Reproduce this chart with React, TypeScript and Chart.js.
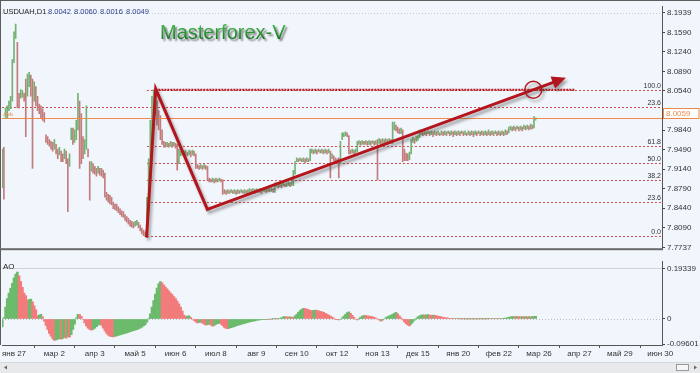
import React, { useEffect, useRef } from "react";
import { Chart, registerables } from "chart.js";

Chart.register(...registerables);

// ---------------- data ----------------
const symbolName = "USDUAH,D1";
const lastQuote = [8.0042, 8.006, 8.0016, 8.0049]; // O H L C
const currentPrice = 8.0059;
const firstBar = -7;
const barsPerDateLabel = 24;
const barRange = [-7.13, 385.07];
const priceRange = [7.7721, 8.2049];
const aoRange = [-0.0996, 0.2187];

const dateLabels = [
  "янв 27", "мар 2", "апр 3", "май 5", "июн 6", "июл 8", "авг 9", "сен 10", "окт 12",
  "ноя 13", "дек 15", "янв 20", "фев 22", "мар 26", "апр 27", "май 29", "июн 30",
];
const priceTicks = [8.1939, 8.159, 8.124, 8.089, 8.054, 7.984, 7.949, 7.914, 7.879, 7.844, 7.809, 7.7737];
const aoTicks = [0.19339, 0, -0.09601];

const highs = [
  7.9497, 7.9531, 8.0238, 8.0273, 8.0359, 8.0445, 8.1101, 8.16, 8.1738, 8.1411,
  8.0497, 8.0566, 8.0549, 8.0497, 8.0755, 8.0842, 8.0876, 8.0824, 8.0755, 8.0704,
  8.0618, 8.0445, 8.0307, 8.0273, 8.0221, 8.0152, 7.9755, 7.9721, 7.9669, 7.9635,
  7.9617, 7.9669, 7.9583, 7.9497, 7.9531, 7.9462, 7.9411, 7.9497, 7.9462, 7.9324,
  7.9411, 7.9876, 7.9876, 7.9842, 8.0014, 8.0497, 8.0359, 8.0135, 7.9721, 7.9669,
  8.0273, 7.9497, 7.9273, 7.9273, 7.9238, 7.9187, 7.9152, 7.9187, 7.9152, 7.9152,
  7.9118, 7.9066, 7.8721, 7.8686, 7.8669, 7.8634, 7.8548, 7.8514, 7.8514, 7.8462,
  7.8428, 7.8393, 7.8376, 7.8324, 7.829, 7.8255, 7.8221, 7.8203, 7.8186, 7.8203,
  7.8221, 7.8186, 7.8134, 7.8083, 7.8048, 7.8014, 7.8634, 7.9324, 8.0014, 8.0445,
  8.0566, 8.0566, 8.0359, 8.0187, 8.01, 7.9842, 7.9635, 7.9618, 7.9618, 7.96,
  7.9635, 7.9618, 7.9618, 7.96, 7.9583, 7.9497, 7.9462, 7.948, 7.9462, 7.948,
  7.9445, 7.948, 7.9462, 7.948, 7.9462, 7.9411, 7.9221, 7.9204, 7.9221, 7.9204,
  7.9221, 7.9204, 7.9187, 7.898, 7.8962, 7.898, 7.8962, 7.898, 7.8962, 7.898,
  7.8962, 7.8945, 7.8773, 7.8755, 7.8773, 7.8755, 7.8773, 7.8755, 7.8773, 7.8755,
  7.8773, 7.8755, 7.8773, 7.8755, 7.8773, 7.8755, 7.8773, 7.879, 7.8773, 7.879,
  7.8773, 7.879, 7.8773, 7.879, 7.8773, 7.879, 7.8807, 7.879, 7.8807, 7.879,
  7.8807, 7.879, 7.8893, 7.8893, 7.8876, 7.8893, 7.8876, 7.8893, 7.8876, 7.8893,
  7.8911, 7.8893, 7.8911, 7.9118, 7.9273, 7.9342, 7.9324, 7.9342, 7.9324, 7.9342,
  7.9324, 7.9342, 7.9324, 7.9497, 7.9497, 7.948, 7.9497, 7.948, 7.9497, 7.948,
  7.9497, 7.948, 7.9497, 7.948, 7.9497, 7.9462, 7.9411, 7.9376, 7.9342, 7.9324,
  7.9342, 7.9635, 7.979, 7.979, 7.9807, 7.979, 7.9738, 7.948, 7.9497, 7.948,
  7.9497, 7.9635, 7.9652, 7.9635, 7.9652, 7.9635, 7.9652, 7.9635, 7.9652, 7.9635,
  7.9652, 7.9635, 7.9652, 7.9669, 7.9687, 7.9669, 7.9687, 7.9669, 7.9687, 7.9669,
  7.9687, 7.9669, 7.998, 7.998, 7.9928, 7.9894, 7.9859, 7.9876, 7.9842, 7.9497,
  7.9428, 7.9411, 7.9445, 7.9669, 7.9704, 7.9687, 7.9721, 7.9738, 7.9842, 7.9825,
  7.9807, 7.9825, 7.9807, 7.9825, 7.9807, 7.9825, 7.9807, 7.9825, 7.9807, 7.9825,
  7.979, 7.9825, 7.9807, 7.9825, 7.9807, 7.9825, 7.9807, 7.9825, 7.9807, 7.9825,
  7.9807, 7.9825, 7.9807, 7.9825, 7.9807, 7.9825, 7.979, 7.9825, 7.9807, 7.9825,
  7.9807, 7.9825, 7.9807, 7.9825, 7.9807, 7.9825, 7.9807, 7.9825, 7.9807, 7.9842,
  7.9807, 7.9825, 7.9807, 7.9825, 7.9807, 7.9825, 7.9807, 7.9825, 7.9807, 7.9842,
  7.9825, 7.9894, 7.9911, 7.9894, 7.9911, 7.9894, 7.9911, 7.9894, 7.9911, 7.9894,
  7.9928, 7.9911, 7.9928, 7.9911, 7.9945, 7.9928, 8.0083, 8.006,
];

const lows = [
  7.8807, 7.86, 8.0066, 8.0049, 8.0187, 8.0221, 8.0359, 8.1049, 8.148, 8.0238,
  8.0238, 8.0411, 8.0428, 8.0359, 7.9721, 8.0445, 8.0618, 8.0445, 7.9152, 8.0359,
  8.0273, 8.0187, 8.0135, 8.0049, 8.0014, 7.998, 7.9617, 7.9583, 7.9549, 7.9497,
  7.9462, 7.9497, 7.9411, 7.9324, 7.9393, 7.9273, 7.9273, 7.9324, 7.9238, 7.8376,
  7.9187, 7.9669, 7.9583, 7.9617, 7.9669, 7.9842, 7.9152, 7.9238, 7.9324, 7.9411,
  7.9497, 7.9359, 7.8583, 7.91, 7.9066, 7.9049, 7.9014, 7.9066, 7.9031, 7.9014,
  7.8979, 7.8634, 7.8583, 7.8548, 7.8514, 7.8497, 7.8428, 7.841, 7.8393, 7.8359,
  7.8324, 7.829, 7.8272, 7.8221, 7.8186, 7.8152, 7.8117, 7.81, 7.8083, 7.8117,
  7.8134, 7.8083, 7.8031, 7.7979, 7.7945, 7.7928, 7.791, 7.8376, 7.9066, 7.9669,
  8.0014, 8.01, 7.9928, 7.9842, 7.9669, 7.9583, 7.9531, 7.9531, 7.9549, 7.9531,
  7.9549, 7.9531, 7.9549, 7.9514, 7.9118, 7.9238, 7.9376, 7.9393, 7.9376, 7.9393,
  7.9376, 7.9393, 7.9359, 7.9393, 7.9376, 7.9152, 7.9152, 7.9135, 7.9152, 7.9135,
  7.9152, 7.9135, 7.8928, 7.8911, 7.8911, 7.8911, 7.8893, 7.8911, 7.8911, 7.8928,
  7.8911, 7.8686, 7.8704, 7.8686, 7.8704, 7.8704, 7.8721, 7.8704, 7.8704, 7.8686,
  7.8704, 7.8704, 7.8721, 7.8704, 7.8704, 7.8686, 7.8704, 7.8721, 7.8704, 7.8721,
  7.8704, 7.8721, 7.8721, 7.8721, 7.8704, 7.8738, 7.8738, 7.8721, 7.8738, 7.8738,
  7.8738, 7.8721, 7.8721, 7.8824, 7.8807, 7.8824, 7.8807, 7.8842, 7.8824, 7.8824,
  7.8842, 7.8824, 7.8842, 7.8842, 7.9049, 7.9273, 7.9273, 7.929, 7.9273, 7.9273,
  7.9255, 7.9273, 7.9273, 7.929, 7.9428, 7.9411, 7.9428, 7.9411, 7.9445, 7.9428,
  7.9428, 7.9411, 7.9428, 7.9411, 7.9428, 7.898, 7.9324, 7.929, 7.9255, 7.9238,
  7.898, 7.9238, 7.9669, 7.9721, 7.9738, 7.9721, 7.9411, 7.9411, 7.9428, 7.9411,
  7.9428, 7.9445, 7.9583, 7.9566, 7.9583, 7.9583, 7.9583, 7.9566, 7.9583, 7.9566,
  7.96, 7.9566, 7.9583, 7.8945, 7.96, 7.9583, 7.96, 7.96, 7.9618, 7.9583,
  7.96, 7.96, 7.96, 7.9842, 7.9825, 7.979, 7.9773, 7.9773, 7.9273, 7.929,
  7.929, 7.929, 7.9307, 7.9411, 7.9618, 7.96, 7.9635, 7.9652, 7.9704, 7.9756,
  7.9738, 7.9756, 7.9738, 7.9773, 7.9738, 7.9756, 7.9721, 7.9756, 7.9738, 7.9756,
  7.9738, 7.9756, 7.9738, 7.9756, 7.9738, 7.9773, 7.9738, 7.9756, 7.9721, 7.9756,
  7.9738, 7.9756, 7.9738, 7.9773, 7.9738, 7.9756, 7.9738, 7.9756, 7.9738, 7.9756,
  7.9721, 7.9756, 7.9738, 7.9773, 7.9738, 7.9756, 7.9738, 7.9756, 7.9738, 7.9756,
  7.9738, 7.9756, 7.9738, 7.9773, 7.9738, 7.9756, 7.9738, 7.9756, 7.9738, 7.9756,
  7.9756, 7.979, 7.9842, 7.9825, 7.9842, 7.9825, 7.9859, 7.9825, 7.9842, 7.9825,
  7.9859, 7.9842, 7.9859, 7.9842, 7.9859, 7.9859, 7.9876, 8.0016,
];

const aoValues = [
  -0.03, 0.005, 0.045, 0.078, 0.099, 0.117, 0.136, 0.157, 0.172, 0.179,
  0.165, 0.143, 0.121, 0.099, 0.089, 0.072, 0.074, 0.076, 0.066, 0.05,
  0.035, 0.012, 0.015, 0.018, 0.008, -0.008, -0.025, -0.04, -0.055, -0.066,
  -0.076, -0.082, -0.08, -0.078, -0.075, -0.077, -0.074, -0.071, -0.073, -0.068,
  -0.07, -0.06, -0.04, -0.02, 0.004, 0.018, 0.017, 0.01, -0.002, -0.015,
  -0.027, -0.035, -0.04, -0.043, -0.04, -0.035, -0.029, -0.024, -0.02, -0.025,
  -0.035, -0.046, -0.055, -0.062, -0.066, -0.068, -0.069, -0.067, -0.065, -0.063,
  -0.061, -0.059, -0.057, -0.055, -0.053, -0.051, -0.049, -0.047, -0.045, -0.043,
  -0.041, -0.038, -0.035, -0.031, -0.027, -0.022, -0.012, 0.002, 0.02, 0.045,
  0.07, 0.095, 0.118, 0.135, 0.143, 0.138, 0.13, 0.122, 0.115, 0.108,
  0.1, 0.093, 0.086, 0.078, 0.068, 0.058, 0.045, 0.03, 0.015, 0.009,
  0.011, 0.012, 0.006, 0.0, -0.006, -0.011, -0.015, -0.013, -0.012, -0.016,
  -0.02, -0.024, -0.022, -0.02, -0.024, -0.028, -0.025, -0.021, -0.018, -0.016,
  -0.02, -0.026, -0.032, -0.036, -0.037, -0.035, -0.033, -0.031, -0.029, -0.027,
  -0.025, -0.023, -0.021, -0.019, -0.017, -0.015, -0.013, -0.011, -0.01, -0.008,
  -0.007, -0.006, -0.005, -0.004, -0.003, -0.002, -0.001, -0.0015, -0.001, 0.0,
  -0.0005, 0.0005, 0.001, 0.0005, 0.001, 0.002, 0.005, 0.008, 0.009, 0.008,
  0.007, 0.008, 0.007, 0.006, 0.012, 0.018, 0.025, 0.032, 0.037, 0.041,
  0.04, 0.038, 0.036, 0.033, 0.031, 0.033, 0.034, 0.033, 0.031, 0.029,
  0.027, 0.025, 0.022, 0.019, 0.015, 0.011, 0.007, 0.003, -0.001, -0.003,
  -0.004, -0.002, 0.004, 0.011, 0.018, 0.024, 0.027, 0.022, 0.014, 0.006,
  -0.002, -0.004, 0.002, 0.007, 0.011, 0.014, 0.013, 0.012, 0.011, 0.01,
  0.008, 0.006, 0.003, 0.0, -0.004, -0.008, -0.005, 0.0, 0.005, 0.009,
  0.012, 0.015, 0.018, 0.022, 0.025, 0.02, 0.012, 0.004, -0.004, -0.011,
  -0.018, -0.024, -0.027, -0.02, -0.012, -0.005, 0.002, 0.008, 0.012, 0.015,
  0.016, 0.015, 0.016, 0.017, 0.015, 0.014, 0.015, 0.014, 0.012, 0.011,
  0.009, 0.008, 0.006, 0.005, 0.004, 0.003, 0.002, 0.0015, 0.001, 0.0012,
  0.0008, 0.001, 0.0005, 0.0007, 0.0004, 0.0006, 0.0003, 0.0005, 0.0002, 0.0004,
  0.0001, 0.0003, 0.0002, 0.0004, 0.0003, 0.0005, 0.0004, 0.0006, 0.0005, 0.0008,
  0.0007, 0.001, 0.0009, 0.0012, 0.001, 0.0015, 0.0013, 0.002, 0.0025, 0.003,
  0.004, 0.006, 0.008, 0.009, 0.0095, 0.009, 0.0095, 0.009, 0.0085, 0.009,
  0.0085, 0.009, 0.0085, 0.009, 0.0085, 0.0095, 0.01, 0.0105,
];

// Fibonacci retracement and drawn objects (bar index, price)
const fibLow = 7.7931;
const fibHigh = 8.0562;
const fibLevels = [0, 23.6, 38.2, 50, 61.8, 100];
const fibStartBar = 79;
const extraLevelLabel = "23.6";
const extraLevelValue = 8.0246;
const thickLevelBars = [84, 333];
const trendPath = [
  [78.8, 7.7916],
  [84.2, 8.0578],
  [114.9, 7.8416],
  [328, 8.0778],
];
const circlePoint = [308.6, 8.0562];
const titleText = "Masterforex-V";

// ---------------- styles ----------------
const FONT = '"Liberation Sans", Arial, sans-serif';
const BG = "#f1f6fc";
const BAR_UP = "#72b272";
const BAR_DOWN = "#c27c7c";
const AO_UP = "#6cba6c";
const AO_DOWN = "#f27b7b";
const FIB_COLOR = "#d44a4a";
const ARROW_COLOR = "#b3161c";
const ORANGE = "#f08a4b";

function hLine(ctx: CanvasRenderingContext2D, x1: number, x2: number, y: number) {
  ctx.beginPath();
  ctx.moveTo(x1, y);
  ctx.lineTo(x2, y);
  ctx.stroke();
}
const crisp = (v: number) => Math.round(v) + 0.5;

const mainOverlay = {
  id: "mainOverlay",
  beforeDraw(chart: any) {
    const { ctx, width, height } = chart;
    ctx.save();
    ctx.fillStyle = BG;
    ctx.fillRect(0, 0, width, height);
    ctx.restore();
  },
  beforeDatasetsDraw(chart: any) {
    const { ctx, chartArea: a } = chart;
    const xs = chart.scales.x;
    const ys = chart.scales.y;
    ctx.save();
    ctx.lineWidth = 1;
    ctx.strokeStyle = "#c5c9ce";
    ctx.setLineDash([1, 2]);
    hLine(ctx, a.left, a.right, crisp(ys.getPixelForValue(priceTicks[0])));

    ctx.strokeStyle = FIB_COLOR;
    ctx.setLineDash([2, 2]);
    ctx.font = `7px ${FONT}`;
    ctx.textAlign = "right";
    ctx.textBaseline = "bottom";
    ctx.fillStyle = "#333";
    const fx = xs.getPixelForValue(fibStartBar);
    fibLevels.forEach((l) => {
      const v = fibLow + (l / 100) * (fibHigh - fibLow);
      const yy = crisp(ys.getPixelForValue(v));
      hLine(ctx, fx, a.right, yy);
      ctx.fillText(l.toFixed(1), a.right - 1, yy - 1);
    });
    const ey = crisp(ys.getPixelForValue(extraLevelValue));
    hLine(ctx, a.left, a.right, ey);
    ctx.fillText(extraLevelLabel, a.right - 1, ey - 1);
    ctx.restore();
  },
  afterDatasetsDraw(chart: any) {
    const { ctx, chartArea: a } = chart;
    const xs = chart.scales.x;
    const ys = chart.scales.y;
    ctx.save();
    // current price line
    ctx.strokeStyle = ORANGE;
    ctx.lineWidth = 1;
    ctx.setLineDash([]);
    const py = crisp(ys.getPixelForValue(currentPrice));
    hLine(ctx, a.left, a.right, py);
    ctx.font = `6px ${FONT}`;
    ctx.fillStyle = ORANGE;
    ctx.textAlign = "left";
    ctx.textBaseline = "bottom";
    ctx.fillText("Ask", a.left + 1, py - 1);

    // thick dotted 100 line
    ctx.strokeStyle = ARROW_COLOR;
    ctx.lineWidth = 2;
    ctx.setLineDash([2, 1]);
    const hy = ys.getPixelForValue(fibHigh);
    hLine(ctx, xs.getPixelForValue(thickLevelBars[0]), xs.getPixelForValue(thickLevelBars[1]), hy);

    // arrow path with shadow
    ctx.setLineDash([]);
    ctx.shadowColor = "rgba(60,60,60,0.45)";
    ctx.shadowBlur = 3;
    ctx.shadowOffsetX = 2;
    ctx.shadowOffsetY = 3;
    const pts = trendPath.map(([b, v]) => [xs.getPixelForValue(b), ys.getPixelForValue(v)]);
    const n = pts.length;
    const [x1, y1] = pts[n - 2];
    const [x2, y2] = pts[n - 1];
    const ang = Math.atan2(y2 - y1, x2 - x1);
    const headLen = 14;
    const headW = 6.5;
    ctx.strokeStyle = ARROW_COLOR;
    ctx.lineWidth = 3;
    ctx.lineJoin = "miter";
    ctx.beginPath();
    ctx.moveTo(pts[0][0], pts[0][1]);
    for (let k = 1; k < n - 1; k++) ctx.lineTo(pts[k][0], pts[k][1]);
    ctx.lineTo(x2 - Math.cos(ang) * (headLen - 2), y2 - Math.sin(ang) * (headLen - 2));
    ctx.stroke();
    ctx.fillStyle = ARROW_COLOR;
    ctx.beginPath();
    const bx = x2 - Math.cos(ang) * headLen;
    const by = y2 - Math.sin(ang) * headLen;
    ctx.moveTo(x2, y2);
    ctx.lineTo(bx - Math.sin(ang) * headW, by + Math.cos(ang) * headW);
    ctx.lineTo(bx + Math.sin(ang) * headW, by - Math.cos(ang) * headW);
    ctx.closePath();
    ctx.fill();

    // circle
    ctx.lineWidth = 1.5;
    ctx.beginPath();
    ctx.arc(xs.getPixelForValue(circlePoint[0]), ys.getPixelForValue(circlePoint[1]), 8.5, 0, Math.PI * 2);
    ctx.stroke();

    // title
    ctx.shadowColor = "rgba(0,0,0,0.5)";
    ctx.shadowBlur = 2;
    ctx.shadowOffsetX = 2;
    ctx.shadowOffsetY = 2;
    ctx.font = `20px ${FONT}`;
    ctx.textAlign = "left";
    ctx.textBaseline = "alphabetic";
    const g = ctx.createLinearGradient(0, a.top + 18, 0, a.top + 33);
    g.addColorStop(0, "#46b84a");
    g.addColorStop(1, "#10741c");
    ctx.fillStyle = g;
    ctx.fillText(titleText, a.left + 158, a.top + 32);
    ctx.restore();

    // header
    ctx.save();
    ctx.font = `7.5px ${FONT}`;
    ctx.textBaseline = "alphabetic";
    ctx.textAlign = "left";
    ctx.fillStyle = "#222";
    ctx.fillText(symbolName, a.left + 1, a.top + 7);
    ctx.fillStyle = "#2c3c8c";
    lastQuote.forEach((q, k) => ctx.fillText(q.toFixed(4), a.left + 46 + k * 26, a.top + 7));
    ctx.restore();
  },
  afterDraw(chart: any) {
    const { ctx, chartArea: a, width } = chart;
    const ys = chart.scales.y;
    ctx.save();
    ctx.fillStyle = "#5c5c5c";
    ctx.fillRect(0, 0, width, 1);
    ctx.fillRect(0, 0, 1, chart.height);
    ctx.fillStyle = "#6a6a6a";
    ctx.fillRect(0, a.bottom, a.right + 1, 2);
    // current price label box
    const py = Math.round(ys.getPixelForValue(currentPrice));
    ctx.fillStyle = "#ffffff";
    ctx.fillRect(a.right + 1, py - 10, width - a.right - 2, 11);
    ctx.strokeStyle = ORANGE;
    ctx.lineWidth = 1;
    ctx.strokeRect(a.right + 1.5, py - 9.5, width - a.right - 2.5, 10);
    ctx.fillStyle = ORANGE;
    ctx.font = `8px ${FONT}`;
    ctx.textAlign = "left";
    ctx.textBaseline = "middle";
    ctx.fillText(currentPrice.toFixed(4), a.right + 4, py - 4.5);
    ctx.restore();
  },
};

const aoOverlay = {
  id: "aoOverlay",
  beforeDraw(chart: any) {
    const { ctx, width, height } = chart;
    ctx.save();
    ctx.fillStyle = BG;
    ctx.fillRect(0, 0, width, height);
    ctx.restore();
  },
  beforeDatasetsDraw(chart: any) {
    const { ctx, chartArea: a } = chart;
    const ys = chart.scales.y;
    ctx.save();
    ctx.lineWidth = 1;
    ctx.strokeStyle = "#cfd3d8";
    hLine(ctx, a.left, a.right, crisp(ys.getPixelForValue(aoTicks[0])));
    ctx.strokeStyle = "#b8bcc0";
    ctx.setLineDash([1, 2]);
    hLine(ctx, a.left, a.right, crisp(ys.getPixelForValue(0)));
    ctx.restore();
  },
  afterDraw(chart: any) {
    const { ctx, chartArea: a, width, height } = chart;
    ctx.save();
    ctx.fillStyle = "#5c5c5c";
    ctx.fillRect(0, 0, 1, a.bottom);
    ctx.fillStyle = "#222";
    ctx.font = `8px ${FONT}`;
    ctx.textAlign = "left";
    ctx.textBaseline = "alphabetic";
    ctx.fillText("AO", a.left + 1, a.top + 7);
    // scrollbar
    const sy = height - 11;
    ctx.fillStyle = "#e8e9eb";
    ctx.fillRect(0, sy, width, 11);
    ctx.fillStyle = "#d6d8db";
    ctx.fillRect(0, sy, width, 1);
    ctx.fillStyle = "#666";
    ctx.beginPath();
    ctx.moveTo(4, sy + 5.5);
    ctx.lineTo(7, sy + 3.5);
    ctx.lineTo(7, sy + 7.5);
    ctx.closePath();
    ctx.fill();
    ctx.beginPath();
    ctx.moveTo(697, sy + 5.5);
    ctx.lineTo(694, sy + 3.5);
    ctx.lineTo(694, sy + 7.5);
    ctx.closePath();
    ctx.fill();
    ctx.fillStyle = "#f6f6f6";
    ctx.fillRect(676, sy + 2, 13, 7);
    ctx.strokeStyle = "#9a9a9a";
    ctx.strokeRect(676.5, sy + 2.5, 12, 6);
    ctx.restore();
  },
};

export default function App() {
  const mainRef = useRef<HTMLCanvasElement | null>(null);
  const aoRef = useRef<HTMLCanvasElement | null>(null);

  useEffect(() => {
    document.body.style.margin = "0";
    const mids = highs.map((h, k) => (h + lows[k]) / 2);
    const priceColors = mids.map((m, k) => (k > 0 && m < mids[k - 1] ? BAR_DOWN : BAR_UP));
    const aoColors = aoValues.map((v, k) => (k > 0 && v < aoValues[k - 1] ? AO_DOWN : AO_UP));
    const priceData = highs.map((h, k) => ({ x: firstBar + k, y: [lows[k], h] }));
    const aoData = aoValues.map((v, k) => ({ x: firstBar + k, y: v }));
    const dateTickValues = dateLabels.map((_, k) => k * barsPerDateLabel);
    const tickFont = { family: FONT, size: 8 };

    const main = new Chart(mainRef.current as HTMLCanvasElement, {
      type: "bar",
      data: {
        datasets: [
          {
            data: priceData as any,
            backgroundColor: priceColors,
            barThickness: 1,
            minBarLength: 1,
            borderWidth: 0,
          },
        ],
      },
      options: {
        animation: false,
        responsive: false,
        maintainAspectRatio: false,
        events: [],
        layout: { padding: { left: 2, top: 2, right: 0, bottom: 2 } },
        plugins: { legend: { display: false }, tooltip: { enabled: false } },
        scales: {
          x: { type: "linear", min: barRange[0], max: barRange[1], display: false, offset: false },
          y: {
            position: "right",
            min: priceRange[0],
            max: priceRange[1],
            afterFit: (s: any) => {
              s.width = 38;
            },
            afterBuildTicks: (s: any) => {
              s.ticks = priceTicks.map((value) => ({ value }));
            },
            ticks: {
              callback: (v: any) => Number(v).toFixed(4),
              font: tickFont,
              color: "#333",
              padding: 2,
              autoSkip: false,
            },
            grid: { drawOnChartArea: false, drawTicks: true, tickLength: 3, color: "#444" },
            border: { display: true, color: "#555", width: 1 },
          },
        },
      } as any,
      plugins: [mainOverlay],
    });

    const ao = new Chart(aoRef.current as HTMLCanvasElement, {
      type: "bar",
      data: {
        datasets: [
          {
            data: aoData as any,
            backgroundColor: aoColors,
            barThickness: 2,
            borderWidth: 0,
          },
        ],
      },
      options: {
        animation: false,
        responsive: false,
        maintainAspectRatio: false,
        events: [],
        layout: { padding: { left: 2, top: 2, right: 0, bottom: 12 } },
        plugins: { legend: { display: false }, tooltip: { enabled: false } },
        scales: {
          x: {
            type: "linear",
            min: barRange[0],
            max: barRange[1],
            offset: false,
            afterBuildTicks: (s: any) => {
              s.ticks = dateTickValues.map((value) => ({ value }));
            },
            afterFit: (s: any) => {
              s.height = 16;
            },
            ticks: {
              callback: (_v: any, i: number) => dateLabels[i],
              maxRotation: 0,
              autoSkip: false,
              font: tickFont,
              color: "#333",
              padding: 1,
            },
            grid: { drawOnChartArea: false, drawTicks: true, tickLength: 3, color: "#555" },
            border: { display: true, color: "#555", width: 1 },
          },
          y: {
            position: "right",
            min: aoRange[0],
            max: aoRange[1],
            afterFit: (s: any) => {
              s.width = 38;
            },
            afterBuildTicks: (s: any) => {
              s.ticks = aoTicks.map((value) => ({ value }));
            },
            ticks: {
              callback: (v: any) => (Number(v) === 0 ? "0" : String(v)),
              font: tickFont,
              color: "#333",
              padding: 2,
              autoSkip: false,
            },
            grid: { drawOnChartArea: false, drawTicks: true, tickLength: 3, color: "#444" },
            border: { display: true, color: "#555", width: 1 },
          },
        },
      } as any,
      plugins: [aoOverlay],
    });

    return () => {
      main.destroy();
      ao.destroy();
    };
  }, []);

  return (
    <div style={{ position: "fixed", left: 0, top: 0, width: 700, height: 373, background: BG }}>
      <canvas ref={mainRef} width={700} height={255} style={{ position: "absolute", left: 0, top: 0 }} />
      <canvas ref={aoRef} width={700} height={118} style={{ position: "absolute", left: 0, top: 255 }} />
    </div>
  );
}
